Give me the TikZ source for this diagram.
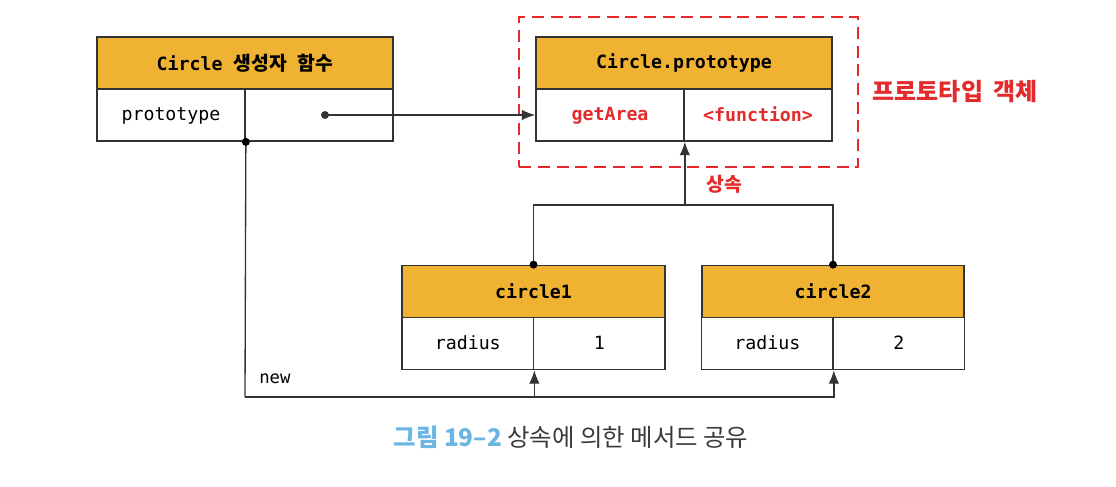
\documentclass[tikz,border=0pt]{standalone}
\usepackage{fontspec}
\setmonofont{DejaVu Sans Mono}
\newfontfamily\krfont{Noto Sans CJK KR}
\usetikzlibrary{arrows.meta,positioning}
\definecolor{hdrorange}{HTML}{F0B232}
\definecolor{protored}{HTML}{E42A2A}
\definecolor{linegray}{HTML}{333333}
\definecolor{capblue}{HTML}{6BB6E3}
\definecolor{capgray}{HTML}{3A3A3A}

\begin{document}
\begin{tikzpicture}[
  x=0.75pt, y=-0.75pt,
  every node/.style={font=\ttfamily\fontsize{13.7}{15}\selectfont, inner sep=0pt},
  hdrcell/.style={draw=linegray, line width=1.3pt, fill=hdrorange, minimum height=39pt,
    font=\ttfamily\bfseries\fontsize{13.7}{15}\selectfont},
  kvcell/.style={draw=linegray, line width=1.3pt, fill=white, minimum height=39pt,
    text depth=0.25ex},
  redtext/.style={text=protored, font=\ttfamily\bfseries\fontsize{13.7}{15}\selectfont},
  protoframe/.style={draw=protored, line width=1.9pt, dash pattern=on 9pt off 5pt},
  link/.style={linegray, line width=1pt},
  tip/.style={-{Latex[length=10pt,width=8pt]}}
]

\path[use as bounding box] (0,0) rectangle (1116,486);

% Constructor function.
\node[hdrcell, minimum width=222pt] (ctorhdr) at (245,63)
  {Circle~{\krfont\fontsize{14.5}{15}\selectfont 생성자}~{\krfont\fontsize{14.5}{15}\selectfont 함수}};
\node[kvcell, minimum width=111pt] (ctorkey) at (171,115) {prototype};
\node[kvcell, minimum width=111pt] (ctorval) at (319,115) {};

% Prototype object.
\node[protoframe, minimum width=254pt, minimum height=112.5pt] (protobox) at (688.5,92) {};
\node[hdrcell, minimum width=222pt] (protohdr) at (684,63) {Circle.prototype};
\node[kvcell, minimum width=111pt, redtext] (protokey) at (610,115) {getArea};
\node[kvcell, minimum width=111pt, redtext] (protoval) at (758,115) {<function>};
\node[right=10pt of protobox, text=protored,
  font=\krfont\bfseries\fontsize{18}{20}\selectfont] (protolabel) {프로토타입\hspace{0.45em}객체};

% Instances.
\node[hdrcell, minimum width=197pt] (c1hdr) at (533.5,291.5) {circle1};
\node[kvcell, minimum width=98.6pt] (c1key) at (467.75,343.5) {radius};
\node[kvcell, minimum width=98.6pt] (c1val) at (599.25,343.5) {1};

\node[hdrcell, minimum width=197pt] (c2hdr) at (833,291.5) {circle2};
\node[kvcell, minimum width=98.6pt] (c2key) at (767.25,343.5) {radius};
\node[kvcell, minimum width=98.6pt] (c2val) at (898.75,343.5) {2};

% prototype reference.
\coordinate (ctordot) at ([xshift=4.5pt]ctorval.center);
\draw[link, tip] (ctordot) -- (protokey.west);
\fill[linegray] (ctordot) circle (3pt);

% new.
\coordinate (newbase) at (245,397);
\draw[link] (ctorkey.south east) -- (newbase);
\draw[link, tip] (newbase) -| (c1key.south east);
\draw[link, tip] (newbase) -| (c2key.south east);
\fill (ctorkey.south east) circle (3pt);
\node[anchor=west, font=\ttfamily\fontsize{13}{15}\selectfont] (newlabel) at (259,379) {new};

% Inheritance.
\path (protokey.south east) ++(0,63) coordinate (inhjoin);
\draw[link] (c1hdr.north) |- (inhjoin) -| (c2hdr.north);
\draw[link, tip] (inhjoin) -- (protokey.south east);
\fill (c1hdr.north) circle (3pt);
\fill (c2hdr.north) circle (3pt);
\node[text=protored, font=\krfont\bfseries\fontsize{14.5}{16}\selectfont] (inhlabel) at (724,184) {상속};

% Caption.
\node[font=\krfont\fontsize{18.3}{20}\selectfont] (caption) at (571,437)
  {{\bfseries\color{capblue}그림 19–2}~{\color{capgray}상속에 의한 메서드 공유}};

\end{tikzpicture}
\end{document}
